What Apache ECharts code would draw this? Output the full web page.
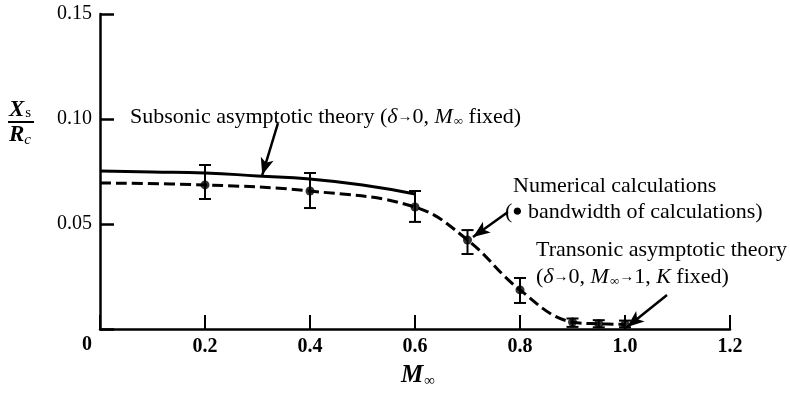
<!DOCTYPE html>
<html><head><meta charset="utf-8">
<script src="https://cdn.jsdelivr.net/npm/echarts@6/dist/echarts.min.js"></script>
<style>html,body{margin:0;padding:0;background:#fff}#c{width:790px;height:394px}</style>
</head><body><div id="c"></div>
<script>
// Subsonic asymptotic theory (solid)
const subsonicM = [0, 0.1, 0.2, 0.3, 0.4, 0.5, 0.6];
const subsonicX = [0.0752, 0.0748, 0.0743, 0.0729, 0.0714, 0.0686, 0.0643];
// Dashed curve through numerical calculations / transonic theory
const curveM = [0, 0.2, 0.4, 0.6, 0.7, 0.8, 0.9, 0.95, 1.0];
const curveX = [0.0695, 0.0686, 0.0657, 0.0581, 0.0424, 0.0186, 0.0033, 0.0025, 0.0022];
// Numerical calculation points with bandwidth (error bars)
const pointM = [0.2, 0.4, 0.6, 0.7, 0.8, 0.9, 0.95, 1.0];
const pointX = [0.0686, 0.0657, 0.0581, 0.0424, 0.0186, 0.0033, 0.0025, 0.0022];
const bandLow = [0.0619, 0.0576, 0.0510, 0.0357, 0.0124, 0.0010, 0.0008, 0.0008];
const bandHigh = [0.0781, 0.0743, 0.0657, 0.0471, 0.0243, 0.0050, 0.0042, 0.0040];
const xTicks = [0, 0.2, 0.4, 0.6, 0.8, 1.0, 1.2];
const yTicks = [0, 0.05, 0.10, 0.15];

const serif = '"Liberation Serif","DejaVu Serif",serif';
const chart = echarts.init(document.getElementById('c'));
const zip = (a, b) => a.map((v, i) => [v, b[i]]);
const richAnno = {
  i: {fontStyle: 'italic', fontSize: 22, fontFamily: serif},
  s: {fontSize: 13, fontFamily: serif, padding: [9, 0, 0, 1]},
  a: {fontSize: 15, fontFamily: serif},
  d: {fontSize: 17, fontFamily: serif}
};
const anno = (x, y, text) => ({type: 'text', x: x, y: y,
  style: {text: text, font: '22px ' + serif, fill: '#000', verticalAlign: 'middle', rich: richAnno}});

chart.setOption({
  animation: false,
  grid: {left: 100, right: 60, top: 14, bottom: 65},
  xAxis: {
    type: 'value', min: xTicks[0], max: xTicks[xTicks.length - 1], interval: 0.2,
    axisLine: {lineStyle: {color: '#000', width: 2.5}},
    axisTick: {inside: true, length: 14, lineStyle: {color: '#000', width: 2}},
    splitLine: {show: false},
    axisLabel: {color: '#000', fontFamily: serif, fontWeight: 'bold', fontSize: 20, margin: 8,
      formatter: v => v === 0 ? '' : v.toFixed(1)}
  },
  yAxis: {
    type: 'value', min: yTicks[0], max: yTicks[yTicks.length - 1], interval: 0.05,
    axisLine: {lineStyle: {color: '#000', width: 2.5}},
    axisTick: {inside: true, length: 14, lineStyle: {color: '#000', width: 2.5}},
    splitLine: {show: false},
    axisLabel: {color: '#000', fontFamily: serif, fontSize: 20, margin: 8,
      formatter: v => v === 0 ? '' : v.toFixed(2)}
  },
  series: [
    {type: 'line', data: zip(subsonicM, subsonicX), smooth: true, showSymbol: false,
      lineStyle: {color: '#000', width: 3}},
    {type: 'line', data: zip(curveM, curveX), smooth: 0.4, showSymbol: false,
      lineStyle: {color: '#000', width: 3, type: [11, 5]}},
    {type: 'custom', data: pointM.map((m, i) => [m, bandLow[i], bandHigh[i]]),
      renderItem: (params, api) => {
        const lo = api.coord([api.value(0), api.value(1)]);
        const hi = api.coord([api.value(0), api.value(2)]);
        const w = 6;
        const st = {stroke: '#000', lineWidth: 2};
        return {type: 'group', children: [
          {type: 'line', shape: {x1: lo[0], y1: lo[1], x2: hi[0], y2: hi[1]}, style: st},
          {type: 'line', shape: {x1: lo[0] - w, y1: lo[1], x2: lo[0] + w, y2: lo[1]}, style: st},
          {type: 'line', shape: {x1: hi[0] - w, y1: hi[1], x2: hi[0] + w, y2: hi[1]}, style: st}
        ]};
      }, z: 3},
    {type: 'scatter', data: zip(pointM, pointX), symbol: 'circle', symbolSize: 9,
      itemStyle: {color: '#000'}, z: 4,
      markLine: {silent: true, symbol: ['none', 'arrow'], symbolSize: [10, 17], label: {show: false},
        lineStyle: {color: '#000', width: 2.5, type: 'solid'},
        data: [
          [{coord: [0.339, 0.098]}, {coord: [0.309, 0.0733]}],
          [{coord: [0.777, 0.0557]}, {coord: [0.7105, 0.0438]}],
          [{coord: [1.08, 0.0162]}, {coord: [1.004, 0.001]}]
        ]}}
  ],
  graphic: [
    anno(130, 117, 'Subsonic asymptotic theory ({i|δ}{a|→}0, {i|M}{s|∞} fixed)'),
    anno(513, 186, 'Numerical calculations'),
    anno(505, 212, '({d|●} bandwidth of calculations)'),
    anno(536, 250, 'Transonic asymptotic theory'),
    anno(536, 277, '({i|δ}{a|→}0, {i|M}{s|∞}{a|→}1, {i|K} fixed)'),
    // x-axis origin label
    {type: 'text', left: 82, top: 335, style: {text: '0', font: 'bold 20px ' + serif, fill: '#000'}},
    // x-axis title
    {type: 'text', left: 401, top: 363, style: {text: '{m|M}{s|∞}', fill: '#000',
      rich: {m: {font: 'italic bold 25px ' + serif}, s: {font: '15px ' + serif, padding: [12, 0, 0, 1]}}}},
    // y-axis title (fraction)
    {type: 'text', left: 9, top: 99, style: {text: '{m|X}{s|s}', fill: '#000',
      rich: {m: {font: 'italic bold 23px ' + serif}, s: {font: '15px ' + serif, padding: [6, 0, 0, 1]}}}},
    {type: 'line', shape: {x1: 8, y1: 122, x2: 34, y2: 122}, style: {stroke: '#000', lineWidth: 2}},
    {type: 'text', left: 9, top: 124, style: {text: '{m|R}{s|c}', fill: '#000',
      rich: {m: {font: 'italic bold 23px ' + serif}, s: {font: 'italic 15px ' + serif, padding: [9, 0, 0, 0]}}}}
  ]
});
</script></body></html>
